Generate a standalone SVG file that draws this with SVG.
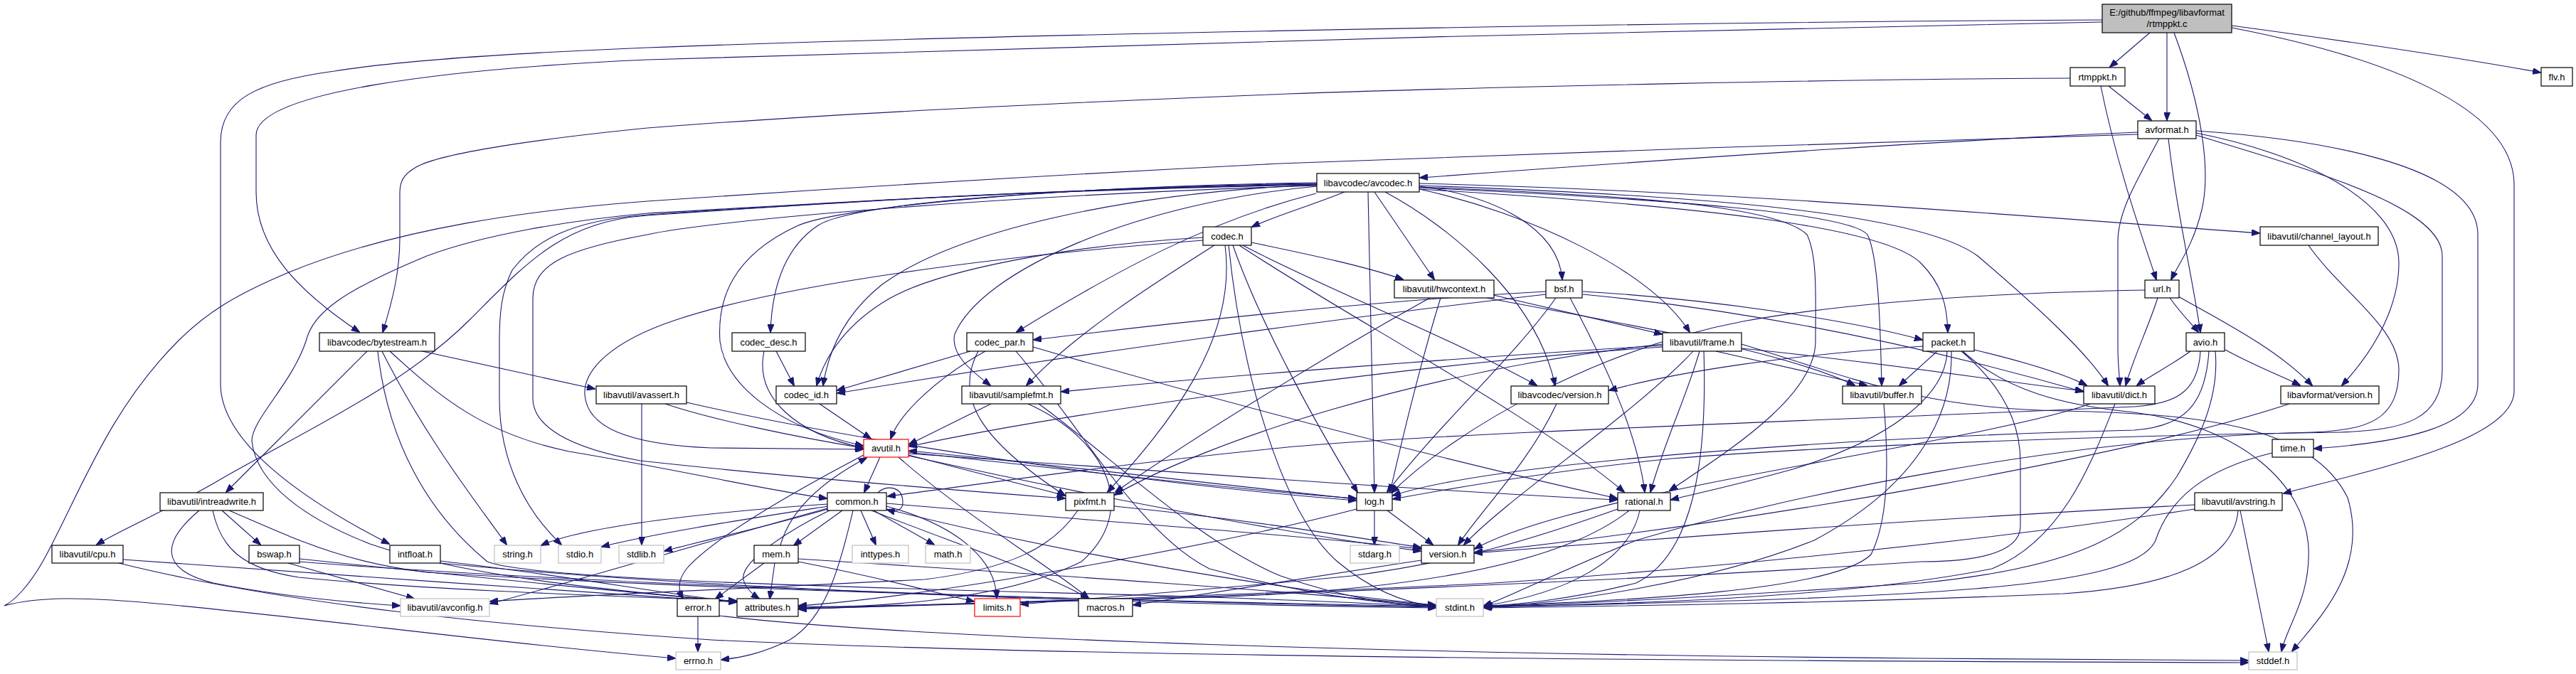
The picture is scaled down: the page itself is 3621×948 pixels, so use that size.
<svg xmlns="http://www.w3.org/2000/svg" width="3621" height="948" viewBox="0 0 3621 948">
<defs>
<marker id="a" markerWidth="12" markerHeight="9" refX="11" refY="4.5" orient="auto" markerUnits="userSpaceOnUse"><path d="M0,0 L12,4.5 L0,9 z" fill="#191970" stroke="#191970" stroke-width="1"/></marker>
<style>
.n rect{fill:#ffffff;stroke:#000000;stroke-width:1.2}
.g rect{fill:#ffffff;stroke:#bfbfbf;stroke-width:1.2}
.r rect{fill:#ffffff;stroke:#ff0000;stroke-width:1.2}
.root rect{fill:#bfbfbf;stroke:#000000;stroke-width:1.2}
text{font-family:"Liberation Sans",Arial,sans-serif;font-size:13px;fill:#000000;text-anchor:middle}
#edges path{fill:none;stroke:#191970;stroke-width:1.1;marker-end:url(#a)}
</style>
</defs>
<rect x="0" y="0" width="3621" height="948" fill="#ffffff"/>
<g id="edges">
<path d="M3022,46 L2966,94"/>
<path d="M3046,46 L3046,169"/>
<path d="M3056,46 C3095,150 3108,240 3095,295 C3083,345 3062,372 3052,393"/>
<path d="M3137,36 C3300,58 3450,80 3571,102"/>
<path d="M3137,39 C3350,80 3534,150 3534,260 L3534,550 C3534,620 3330,662 3210,694"/>
<path d="M2955,28 C2200,32 1300,52 910,67 C640,78 520,92 470,100 C360,115 310,140 310,200 L310,540 C310,620 420,700 547,765"/>
<path d="M2955,31 C2400,40 1300,70 910,84 C620,97 360,130 360,190 L360,270 C360,350 420,410 505,467"/>
<path d="M2910,110 C2600,111 2100,122 1810,132 C1400,148 1100,165 910,180 C760,195 620,215 585,235 C566,246 562,256 562,272 L562,335 C562,382 552,422 538,467"/>
<path d="M2964,121 L3024,169"/>
<path d="M2953,121 C2975,230 3010,330 3031,393"/>
<path d="M3005,186 C2800,194 2400,220 1996,250"/>
<path d="M3005,189 C2700,197 2100,218 1800,230 C1400,250 1100,270 910,283 C750,295 560,320 406,383 C330,415 290,440 250,480 C150,580 110,700 60,790 C40,825 20,845 6,852 C50,840 110,838 232,850 C450,870 700,905 949,926"/>
<path d="M3035,195 C3000,260 2977,300 2977,340 L2977,490 C2977,512 2979,526 2980,542"/>
<path d="M3048,195 C3060,300 3080,380 3093,467"/>
<path d="M3087,184 C3250,195 3483,230 3483,330 L3483,540 C3483,600 3380,622 3253,631"/>
<path d="M3087,190 C3250,240 3433,290 3433,360 L3433,520 C3433,590 3380,605 3290,608 C3000,612 2600,625 2350,645 C2200,660 2050,685 1958,702"/>
<path d="M3087,187 C3230,215 3372,280 3372,370 C3372,430 3340,490 3292,542"/>
<path d="M3050,419 C3065,440 3080,455 3090,467"/>
<path d="M3033,419 C3020,460 3000,500 2988,542"/>
<path d="M3062,417 C3120,450 3200,490 3250,542"/>
<path d="M3015,408 C2800,412 2600,425 2450,452 C2250,490 2050,600 1956,693"/>
<path d="M3079,494 C3050,515 3020,530 3004,542"/>
<path d="M3128,492 C3170,515 3210,530 3233,542"/>
<path d="M3093,494 C3090,550 3060,568 3000,572 C2600,590 2000,610 1800,630 C1550,655 1350,685 1248,698"/>
<path d="M3105,494 C3100,570 3070,600 3000,605 C2600,615 2100,650 1958,697"/>
<path d="M3114,494 C3120,560 3090,620 3060,670 C3000,760 2900,800 2700,820 C2400,840 2200,850 2087,853"/>
<path d="M516,494 L318,692"/>
<path d="M537,494 C600,620 680,720 712,766"/>
<path d="M531,494 C545,620 600,720 685,790 C760,820 1400,830 1700,840 C1850,845 1950,850 2018,853"/>
<path d="M548,494 C620,560 680,610 800,635 C950,660 1080,690 1162,701"/>
<path d="M589,493 L836,547"/>
<path d="M1890,270 C1840,290 1790,305 1760,319"/>
<path d="M1932,270 L2016,393"/>
<path d="M1923,270 C1925,400 1930,560 1932,692"/>
<path d="M1947,270 C2040,320 2160,420 2186,542"/>
<path d="M1995,266 C2150,300 2320,380 2375,467"/>
<path d="M1995,262 C2100,275 2190,320 2196,393"/>
<path d="M1850,272 C1700,310 1570,380 1429,467"/>
<path d="M1851,262 C1600,285 1380,380 1342,470 C1335,500 1370,525 1392,542"/>
<path d="M1851,258 C1500,263 1200,285 1150,317 C1100,350 1085,410 1083,467"/>
<path d="M1851,257 C1500,262 1180,290 1120,318 C1030,360 1008,420 1012,480 C1020,540 1090,600 1213,627"/>
<path d="M1851,260 C1600,270 1350,320 1240,400 C1190,440 1165,490 1157,542"/>
<path d="M1851,259 C1450,265 1100,290 910,303 C790,312 740,370 660,450 C560,550 400,620 300,680 C230,720 170,745 136,766"/>
<path d="M1851,259 C1400,268 1100,290 910,300 C800,310 680,330 600,360 C480,410 440,440 430,480 C410,540 354,590 354,620 C360,680 430,730 520,765 C650,810 850,830 1035,846"/>
<path d="M1995,258 C2400,268 2800,300 3176,328"/>
<path d="M1995,263 C2300,275 2500,290 2540,330 C2555,360 2552,420 2552,480 C2552,560 2420,640 2347,690"/>
<path d="M1995,264 C2350,280 2600,300 2625,330 C2640,360 2643,450 2645,542"/>
<path d="M1995,266 C2400,290 2650,320 2700,370 C2730,400 2737,430 2738,467"/>
<path d="M1995,261 C2400,275 2700,300 2780,360 C2850,420 2930,490 2963,542"/>
<path d="M1851,261 C1400,275 1000,310 910,330 C800,350 749,370 749,420 L749,560 C749,600 800,630 900,648 C1100,670 1350,690 1497,701"/>
<path d="M1851,260 C1400,268 1100,290 910,302 C800,310 750,340 720,380 C705,410 702,440 702,480 L702,560 C702,650 740,720 789,766"/>
<path d="M1707,345 C1620,400 1510,470 1443,542"/>
<path d="M1722,345 C1740,480 1640,600 1557,692"/>
<path d="M1727,345 C1745,520 1800,720 1880,790 C1940,840 1990,850 2018,853"/>
<path d="M1733,345 C1770,450 1840,580 1908,692"/>
<path d="M1742,345 C1900,450 2150,580 2283,692"/>
<path d="M1747,345 C1850,400 2050,480 2160,542"/>
<path d="M1759,341 C1850,360 1920,375 1972,393"/>
<path d="M1691,334 C1500,345 1320,380 1250,420 C1190,455 1160,500 1148,542"/>
<path d="M1691,338 C1400,360 1100,400 950,450 C860,480 820,520 822,555 C825,600 880,625 1000,630 L1213,632"/>
<path d="M2010,419 C1900,480 1700,600 1568,692"/>
<path d="M2025,419 C2000,500 1975,600 1954,692"/>
<path d="M2099,415 L2336,470"/>
<path d="M2090,419 C2250,450 2500,490 2607,542"/>
<path d="M2173,410 C1900,425 1600,460 1453,478"/>
<path d="M2173,414 C1900,445 1500,500 1177,553"/>
<path d="M2187,419 C2130,500 2020,600 1950,692"/>
<path d="M2207,419 C2250,500 2300,600 2312,692"/>
<path d="M2225,410 C2400,420 2600,450 2702,478"/>
<path d="M2225,414 C2500,440 2750,500 2928,551"/>
<path d="M3245,345 C3290,410 3372,460 3372,520 C3372,590 3330,605 3250,608 C2900,615 2500,700 2300,760 C2200,800 2120,840 2086,852"/>
<path d="M1091,494 L1116,542"/>
<path d="M1074,494 C1060,560 1120,610 1213,630"/>
<path d="M1364,494 L1177,549"/>
<path d="M1385,494 C1320,530 1265,580 1252,617"/>
<path d="M1428,494 C1520,600 1600,750 1700,800 C1850,840 1950,850 2018,852"/>
<path d="M1452,488 C1700,560 2000,640 2273,701"/>
<path d="M1375,494 C1340,560 1380,620 1497,697"/>
<path d="M1393,568 L1278,625"/>
<path d="M1445,568 C1560,620 1600,720 1520,790 C1400,850 1200,855 1123,853"/>
<path d="M1460,568 C1560,640 1680,760 1800,810 C1900,845 1970,851 2018,853"/>
<path d="M2337,486 C2100,500 1700,530 1492,551"/>
<path d="M2337,488 C2000,510 1500,580 1278,628"/>
<path d="M2380,494 C2300,580 2120,700 2058,766"/>
<path d="M2389,494 C2370,560 2340,620 2320,692"/>
<path d="M2395,494 C2400,650 2380,780 2300,820 C2200,845 2130,850 2086,853"/>
<path d="M2412,494 L2624,542"/>
<path d="M2448,490 C2650,510 2800,535 2928,550"/>
<path d="M2337,484 C2000,520 1700,620 1567,696"/>
<path d="M2448,484 C2600,530 2700,575 2900,578 C3100,582 3250,600 3300,700 C3330,800 3260,870 3222,916"/>
<path d="M2703,487 C2500,500 2350,525 2262,549"/>
<path d="M2723,494 L2670,542"/>
<path d="M2737,494 C2735,560 2650,620 2520,660 C2430,685 2380,695 2349,703"/>
<path d="M2743,494 C2745,580 2700,680 2550,760 C2400,820 2200,848 2086,854"/>
<path d="M2757,494 C2800,530 2840,580 2840,650 L2840,740 C2840,770 2800,790 2700,790 C2400,810 1800,840 1123,856"/>
<path d="M2759,494 C2820,550 2900,570 3000,580 C3150,600 3240,680 3245,770 C3248,840 3215,880 3207,916"/>
<path d="M2775,492 C2850,510 2900,525 2933,542"/>
<path d="M902,568 L902,766"/>
<path d="M935,568 C1000,590 1120,615 1213,630"/>
<path d="M965,566 C1200,620 1600,680 1906,704"/>
<path d="M1152,568 L1224,617"/>
<path d="M2188,568 C2150,650 2080,720 2050,766"/>
<path d="M2648,568 C2655,650 2655,730 2630,780 C2580,830 2300,845 2086,852"/>
<path d="M2938,568 C2850,600 2600,640 2400,680 C2250,710 2130,740 2073,772"/>
<path d="M2973,568 C2940,650 2900,760 2800,800 C2600,840 2300,850 2086,853"/>
<path d="M3218,568 C3000,640 2500,730 2073,777"/>
<path d="M3194,637 C3100,660 3050,700 3030,760 C3000,830 2700,840 2086,854"/>
<path d="M3149,718 L3189,916"/>
<path d="M3146,718 C3140,790 3050,825 2900,835 C2600,848 2300,852 2086,855"/>
<path d="M3085,710 C2700,730 2300,760 2073,778"/>
<path d="M3085,716 C2800,760 2400,800 2100,820 C1700,840 1300,850 1123,857"/>
<path d="M1234,693 C1244,682 1268,683 1269,705 C1270,716 1262,721 1247,717"/>
<path d="M1184,718 L1116,767"/>
<path d="M1210,718 L1231,766"/>
<path d="M1228,718 L1313,766"/>
<path d="M1164,716 C1080,740 990,760 934,775"/>
<path d="M1164,712 C1050,730 920,750 846,769"/>
<path d="M1163,709 C1000,720 820,740 761,767"/>
<path d="M1166,718 C1110,745 1040,790 1045,815 C1048,828 1058,836 1067,842"/>
<path d="M1199,718 C1180,800 1160,870 1110,900 C1070,920 1040,925 1014,928"/>
<path d="M1246,712 C1350,740 1400,790 1401,841"/>
<path d="M1225,718 C1330,760 1480,810 1530,842"/>
<path d="M1246,716 C1500,780 1800,830 2018,851"/>
<path d="M1246,708 C1500,730 1800,750 1997,772"/>
<path d="M1163,715 C1000,760 800,820 689,849"/>
<path d="M1515,718 C1480,770 1420,800 1300,815 C1000,830 800,838 689,846"/>
<path d="M1566,712 C1750,730 1900,755 1997,770"/>
<path d="M1932,718 L1932,766"/>
<path d="M1950,718 L2014,766"/>
<path d="M1907,716 C1700,770 1300,840 1123,852"/>
<path d="M1907,702 C1700,680 1450,650 1278,634"/>
<path d="M2274,716 C2150,760 2050,790 1900,810 C1700,830 1550,840 1435,850"/>
<path d="M2290,718 C2200,790 2000,830 1700,840 C1400,848 1250,852 1123,855"/>
<path d="M2305,718 C2290,790 2200,835 2086,852"/>
<path d="M1097,767 C1110,720 1150,680 1218,644"/>
<path d="M1074,792 L1006,842"/>
<path d="M1089,792 L1082,842"/>
<path d="M1122,790 C1250,815 1320,835 1369,846"/>
<path d="M1122,786 C1500,810 1800,830 2018,852"/>
<path d="M981,867 L981,916"/>
<path d="M1011,866 C1300,900 2000,920 2700,926 L3160,929"/>
<path d="M1998,788 C1850,810 1700,835 1593,851"/>
<path d="M280,718 C230,760 220,800 300,820 C400,840 500,848 562,852"/>
<path d="M299,718 C310,770 340,800 420,812 C600,830 850,838 1035,845"/>
<path d="M312,718 L366,766"/>
<path d="M322,718 C420,760 480,790 600,805 C1000,830 1600,845 2018,853"/>
<path d="M173,787 C400,805 800,830 1035,847"/>
<path d="M167,792 C400,850 700,880 1000,900 C1500,925 2500,930 3160,932"/>
<path d="M405,792 L582,842"/>
<path d="M421,786 C650,810 900,835 1035,846"/>
<path d="M421,790 C800,820 1500,845 2018,854"/>
<path d="M619,789 C800,810 900,830 1035,847"/>
<path d="M619,792 C1000,830 1600,850 2018,855"/>
<path d="M1237,643 L1215,692"/>
<path d="M1263,643 C1350,720 1480,800 1530,841"/>
<path d="M1277,640 L1497,697"/>
<path d="M1277,636 C1500,660 1750,690 1906,701"/>
<path d="M1277,638 C1600,660 2000,690 2273,703"/>
<path d="M1277,641 C1500,690 1800,750 1997,775"/>
<path d="M1214,640 C1100,700 1000,760 965,800 C950,820 955,832 960,842"/>
</g>
<g id="n_root" class="root"><rect x="2955" y="6" width="182" height="40"/><text x="3046" y="22">E:/github/ffmpeg/libavformat</text><text x="3046" y="38">/rtmppkt.c</text></g>
<g id="n_rtmppkt_h" class="n"><rect x="2910" y="95" width="77" height="26"/><text x="2948.5" y="112.5">rtmppkt.h</text></g>
<g id="n_flv" class="n"><rect x="3572" y="95" width="44" height="26"/><text x="3594" y="112.5">flv.h</text></g>
<g id="n_avformat" class="n"><rect x="3005" y="170" width="82" height="25"/><text x="3046" y="187">avformat.h</text></g>
<g id="n_avcodec" class="n"><rect x="1851" y="244" width="144" height="26"/><text x="1923" y="261.5">libavcodec/avcodec.h</text></g>
<g id="n_codec" class="n"><rect x="1691" y="319" width="68" height="26"/><text x="1725" y="336.5">codec.h</text></g>
<g id="n_chlayout" class="n"><rect x="3177" y="319" width="166" height="26"/><text x="3260" y="336.5">libavutil/channel_layout.h</text></g>
<g id="n_hwcontext" class="n"><rect x="1960" y="394" width="140" height="25"/><text x="2030" y="411">libavutil/hwcontext.h</text></g>
<g id="n_bsf" class="n"><rect x="2173" y="394" width="51" height="25"/><text x="2198.5" y="411">bsf.h</text></g>
<g id="n_url" class="n"><rect x="3015" y="394" width="48" height="25"/><text x="3039" y="411">url.h</text></g>
<g id="n_bytestream" class="n"><rect x="449" y="468" width="162" height="26"/><text x="530" y="485.5">libavcodec/bytestream.h</text></g>
<g id="n_codec_desc" class="n"><rect x="1029" y="468" width="103" height="26"/><text x="1080.5" y="485.5">codec_desc.h</text></g>
<g id="n_codec_par" class="n"><rect x="1359" y="468" width="93" height="26"/><text x="1405.5" y="485.5">codec_par.h</text></g>
<g id="n_frame" class="n"><rect x="2337" y="468" width="111" height="26"/><text x="2392.5" y="485.5">libavutil/frame.h</text></g>
<g id="n_packet" class="n"><rect x="2703" y="468" width="72" height="26"/><text x="2739" y="485.5">packet.h</text></g>
<g id="n_avio" class="n"><rect x="3073" y="468" width="54" height="26"/><text x="3100" y="485.5">avio.h</text></g>
<g id="n_avassert" class="n"><rect x="838" y="543" width="127" height="25"/><text x="901.5" y="560">libavutil/avassert.h</text></g>
<g id="n_codec_id" class="n"><rect x="1091" y="543" width="85" height="25"/><text x="1133.5" y="560">codec_id.h</text></g>
<g id="n_samplefmt" class="n"><rect x="1352" y="543" width="139" height="25"/><text x="1421.5" y="560">libavutil/samplefmt.h</text></g>
<g id="n_lavc_version" class="n"><rect x="2124" y="543" width="137" height="25"/><text x="2192.5" y="560">libavcodec/version.h</text></g>
<g id="n_buffer" class="n"><rect x="2590" y="543" width="111" height="25"/><text x="2645.5" y="560">libavutil/buffer.h</text></g>
<g id="n_dict" class="n"><rect x="2929" y="543" width="100" height="25"/><text x="2979" y="560">libavutil/dict.h</text></g>
<g id="n_lavf_version" class="n"><rect x="3206" y="543" width="138" height="25"/><text x="3275" y="560">libavformat/version.h</text></g>
<g id="n_avutil" class="r"><rect x="1214" y="618" width="63" height="25"/><text x="1245.5" y="635">avutil.h</text></g>
<g id="n_time" class="n"><rect x="3194" y="618" width="58" height="25"/><text x="3223" y="635">time.h</text></g>
<g id="n_intreadwrite" class="n"><rect x="225" y="693" width="145" height="25"/><text x="297.5" y="710">libavutil/intreadwrite.h</text></g>
<g id="n_common" class="n"><rect x="1163" y="693" width="83" height="25"/><text x="1204.5" y="710">common.h</text></g>
<g id="n_pixfmt" class="n"><rect x="1498" y="693" width="68" height="25"/><text x="1532" y="710">pixfmt.h</text></g>
<g id="n_log" class="n"><rect x="1907" y="693" width="50" height="25"/><text x="1932" y="710">log.h</text></g>
<g id="n_rational" class="n"><rect x="2274" y="693" width="74" height="25"/><text x="2311" y="710">rational.h</text></g>
<g id="n_avstring" class="n"><rect x="3085" y="693" width="123" height="25"/><text x="3146.5" y="710">libavutil/avstring.h</text></g>
<g id="n_cpu" class="n"><rect x="73" y="767" width="100" height="25"/><text x="123" y="784">libavutil/cpu.h</text></g>
<g id="n_bswap" class="n"><rect x="350" y="767" width="71" height="25"/><text x="385.5" y="784">bswap.h</text></g>
<g id="n_intfloat" class="n"><rect x="548" y="767" width="71" height="25"/><text x="583.5" y="784">intfloat.h</text></g>
<g id="n_string" class="g"><rect x="695" y="767" width="65" height="25"/><text x="727.5" y="784">string.h</text></g>
<g id="n_stdio" class="g"><rect x="785" y="767" width="60" height="25"/><text x="815" y="784">stdio.h</text></g>
<g id="n_stdlib" class="g"><rect x="870" y="767" width="63" height="25"/><text x="901.5" y="784">stdlib.h</text></g>
<g id="n_mem" class="n"><rect x="1060" y="767" width="62" height="25"/><text x="1091" y="784">mem.h</text></g>
<g id="n_inttypes" class="g"><rect x="1198" y="767" width="79" height="25"/><text x="1237.5" y="784">inttypes.h</text></g>
<g id="n_math" class="g"><rect x="1301" y="767" width="63" height="25"/><text x="1332.5" y="784">math.h</text></g>
<g id="n_stdarg" class="g"><rect x="1898" y="767" width="69" height="25"/><text x="1932.5" y="784">stdarg.h</text></g>
<g id="n_version" class="n"><rect x="1998" y="767" width="74" height="25"/><text x="2035" y="784">version.h</text></g>
<g id="n_avconfig" class="g"><rect x="563" y="842" width="125" height="25"/><text x="625.5" y="859">libavutil/avconfig.h</text></g>
<g id="n_error" class="n"><rect x="952" y="842" width="59" height="25"/><text x="981.5" y="859">error.h</text></g>
<g id="n_attributes" class="n"><rect x="1036" y="842" width="86" height="25"/><text x="1079" y="859">attributes.h</text></g>
<g id="n_limits" class="r"><rect x="1370" y="842" width="64" height="25"/><text x="1402" y="859">limits.h</text></g>
<g id="n_macros" class="n"><rect x="1516" y="842" width="76" height="25"/><text x="1554" y="859">macros.h</text></g>
<g id="n_stdint" class="g"><rect x="2019" y="842" width="66" height="25"/><text x="2052" y="859">stdint.h</text></g>
<g id="n_errno" class="g"><rect x="950" y="917" width="63" height="25"/><text x="981.5" y="934">errno.h</text></g>
<g id="n_stddef" class="g"><rect x="3161" y="917" width="68" height="25"/><text x="3195" y="934">stddef.h</text></g>
</svg>
